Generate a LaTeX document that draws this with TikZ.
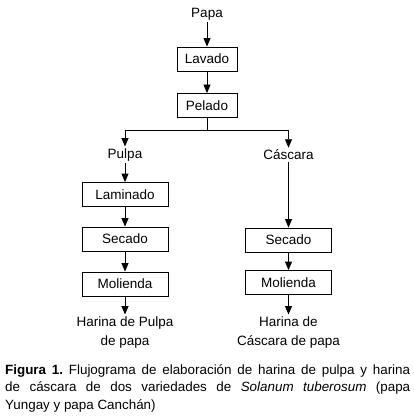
\documentclass[tikz,border=0pt]{standalone}
\usepackage{fontspec}
\setmainfont{Liberation Sans}
\usetikzlibrary{arrows.meta}

\tikzset{
  paso/.style={draw, line width=0.9pt, minimum width=60pt, minimum height=24pt,
    inner sep=0pt, font=\fontsize{13.5}{16}\selectfont},
  pasoancho/.style={paso, minimum width=86pt},
  etiq/.style={inner sep=2pt, align=center, font=\fontsize{13.5}{19}\selectfont},
  flujo/.style={->, line width=0.9pt},
}

\begin{document}
\frenchspacing
\begin{tikzpicture}[x=1pt, y=-1pt, >={Triangle[length=8.5pt,width=7pt]}]
  \useasboundingbox (0,0) rectangle (414,417);
  % tronco comun
  \node[etiq] (papa) at (207,14) {Papa};
  \node[paso] (lav) at (207,59) {Lavado};
  \node[paso] (pel) at (207,105.5) {Pelado};
  \coordinate (bif) at (207,130);
  % rama de la pulpa
  \node[etiq] (pulpa) at (125,155) {Pulpa};
  \node[pasoancho] (lam) at (125,194.5) {Laminado};
  \node[pasoancho] (secP) at (125,239) {Secado};
  \node[pasoancho] (molP) at (125,284) {Molienda};
  \node[etiq] (harP) at (125,332.5) {Harina de Pulpa\\de papa};
  % rama de la cascara
  \node[etiq] (casc) at (288.5,155) {C\'ascara};
  \node[pasoancho] (secC) at (288.5,240) {Secado};
  \node[pasoancho] (molC) at (288.5,282.5) {Molienda};
  \node[etiq] (harC) at (288.5,332.5) {Harina de\\C\'ascara de papa};
  % conectores
  \draw[flujo] (papa) -- (lav);
  \draw[flujo] (lav) -- (pel);
  \draw[line width=0.9pt] (pel) -- (bif);
  \draw[flujo] (bif) -| (pulpa);
  \draw[flujo] (bif) -| (casc);
  \draw[flujo] (pulpa) -- (lam);
  \draw[flujo] (lam) -- (secP);
  \draw[flujo] (secP) -- (molP);
  \draw[flujo] (molP) -- (harP);
  \draw[flujo] (casc) -- (secC);
  \draw[flujo] (secC) -- (molC);
  \draw[flujo] (molC) -- (harC);
  % pie de figura
  \node[anchor=north west, text width=405pt, align=justify, inner sep=0pt,
    font=\fontsize{13.4}{17.5}\selectfont] (pie) at (5,364)
    {\textbf{Figura 1.} Flujograma de elaboraci\'on de harina de pulpa y harina\linebreak
     de c\'ascara de dos variedades de \textit{Solanum tuberosum} (papa\linebreak
     Yungay y papa Canch\'an)};
\end{tikzpicture}
\end{document}
